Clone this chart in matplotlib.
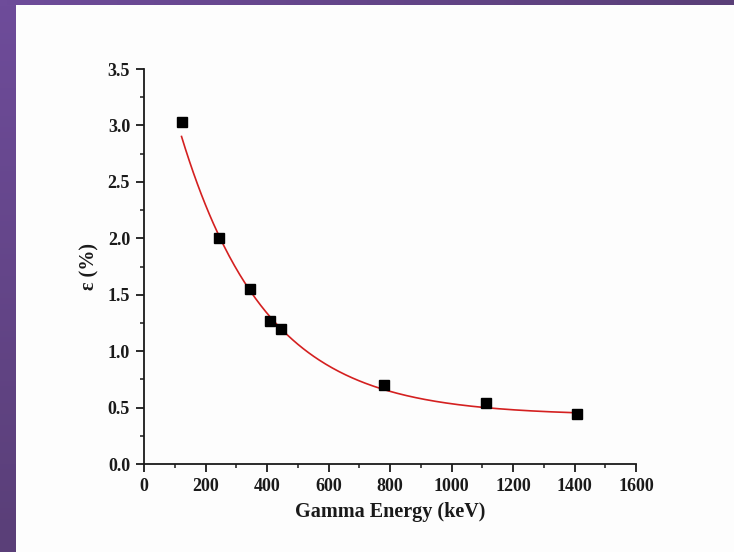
import numpy as np
import matplotlib.pyplot as plt
from matplotlib.ticker import MultipleLocator
from matplotlib.colors import LinearSegmentedColormap

# Measured efficiency points (Eu-152 lines)
energy_kev = [122, 244, 344, 411, 444, 779, 1112, 1408]
efficiency_pct = [3.03, 2.00, 1.55, 1.27, 1.20, 0.70, 0.54, 0.44]

# Exponential decay fit: y = y0 + A*exp(-x/t)
fit_y0 = 0.43
fit_A = 3.84
fit_t = 277.0

plt.rcParams["font.family"] = ["Liberation Serif", "DejaVu Serif"]
plt.rcParams["font.weight"] = "bold"

fig = plt.figure(figsize=(7.34, 5.52), dpi=100)
fig.patch.set_facecolor("#fdfdfd")

# Purple slide frame on the left and top
frame = fig.add_axes([0, 0, 1, 1], zorder=-5)
frame.set_axis_off()
frame.set_xlim(0, 734)
frame.set_ylim(552, 0)
purple = LinearSegmentedColormap.from_list("pp", ["#6e4c9a", "#5a3f78"])
grad = np.linspace(0, 1, 100).reshape(-1, 1)
frame.imshow(grad, cmap=purple, extent=[0, 16, 552, 0], aspect="auto")
frame.imshow(grad.T, cmap=purple, extent=[0, 734, 5, 0], aspect="auto")

ax = fig.add_axes([0.1962, 0.1594, 0.6703, 0.7156])
ax.set_facecolor("none")

x_fit = np.linspace(energy_kev[0], energy_kev[-1], 300)
y_fit = fit_y0 + fit_A * np.exp(-x_fit / fit_t)
ax.plot(x_fit, y_fit, color="#d42020", lw=1.2, zorder=2)
ax.plot(energy_kev, efficiency_pct, "s", color="black", ms=7, zorder=3)

ax.set_xlim(0, 1600)
ax.set_ylim(0, 3.5)
ax.xaxis.set_major_locator(MultipleLocator(200))
ax.xaxis.set_minor_locator(MultipleLocator(100))
ax.yaxis.set_major_locator(MultipleLocator(0.5))
ax.yaxis.set_minor_locator(MultipleLocator(0.25))
ax.yaxis.set_major_formatter(plt.FuncFormatter(lambda v, p: f"{v:.1f}"))

for side in ["top", "right"]:
    ax.spines[side].set_visible(False)
for side in ["left", "bottom"]:
    ax.spines[side].set_linewidth(1.3)
    ax.spines[side].set_color("#1a1a1a")

ax.tick_params(which="major", direction="out", length=6, width=1.3,
               labelsize=13, colors="#1a1a1a", pad=4)
ax.tick_params(which="minor", direction="out", length=3, width=1.1,
               colors="#1a1a1a")
for lab in ax.get_xticklabels() + ax.get_yticklabels():
    lab.set_fontweight("bold")

ax.set_xlabel("Gamma Energy (keV)", fontsize=14.5, fontweight="bold",
              color="#1a1a1a", labelpad=5)
ax.set_ylabel("ε (%)", fontsize=14.5, fontweight="bold",
              color="#1a1a1a", labelpad=6)

fig.savefig("out.png", dpi=100, facecolor=fig.get_facecolor())
